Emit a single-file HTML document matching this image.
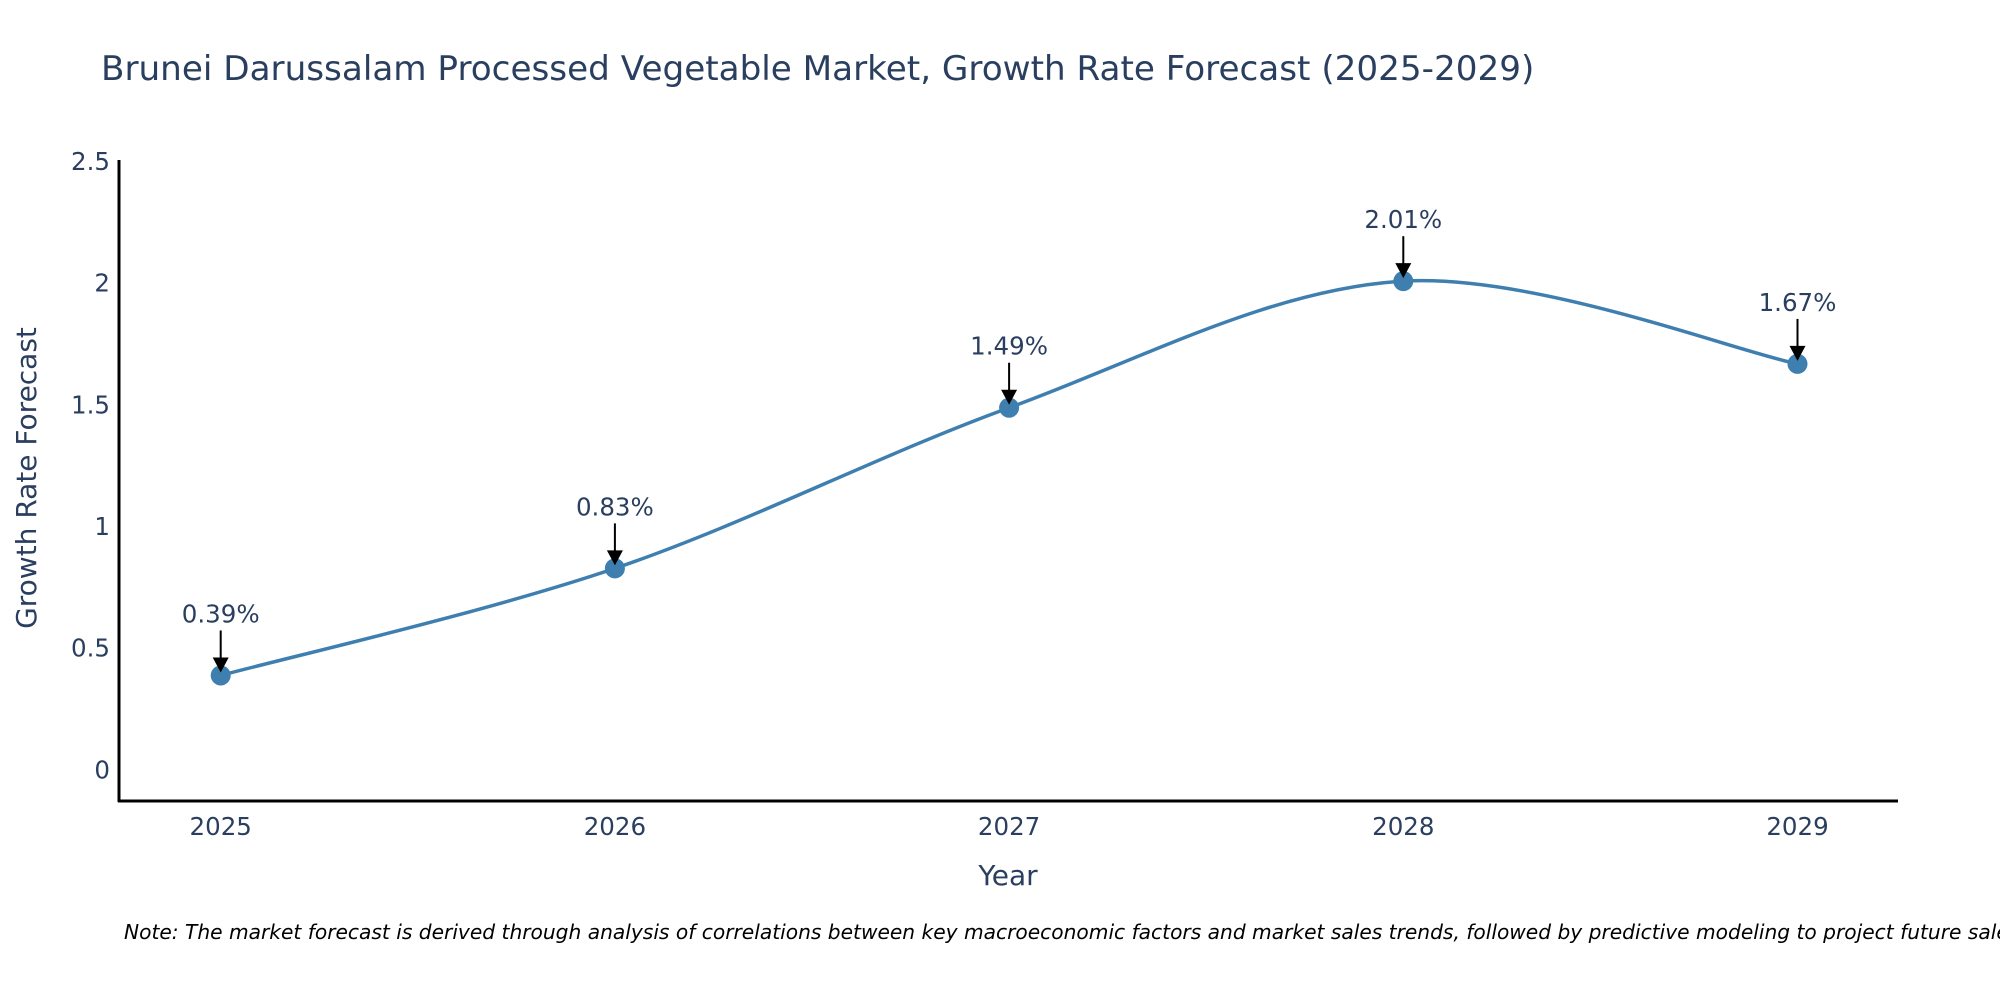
<!DOCTYPE html>
<html><head><meta charset="utf-8"><style>
body{margin:0;background:#fff;}
svg{display:block;font-family:"DejaVu Sans","Liberation Sans",sans-serif;}
</style></head><body>
<svg id="chart" width="2000" height="1000">
<text x="101" y="80" font-size="34.2" fill="#2a3f5f">Brunei Darussalam Processed Vegetable Market, Growth Rate Forecast (2025-2029)</text>
<g id="yticks"></g>
<g id="xticks"></g>
<line x1="119" y1="160" x2="119" y2="802" stroke="#000" stroke-width="3"/>
<line x1="118" y1="801" x2="1898" y2="801" stroke="#000" stroke-width="3"/>
<text transform="translate(36,478) rotate(-90)" text-anchor="middle" font-size="28" fill="#2a3f5f">Growth Rate Forecast</text>
<text x="1008" y="885" text-anchor="middle" font-size="28" fill="#2a3f5f">Year</text>
<path id="line" fill="none" stroke="#3f7fb0" stroke-width="3.5"/>
<g id="marks"></g>
<text x="124" y="939" font-size="20.2" font-style="italic" fill="#000">Note: The market forecast is derived through analysis of correlations between key macroeconomic factors and market sales trends, followed by predictive modeling to project future sales.</text>
</svg>
<script>
const years = [2025, 2026, 2027, 2028, 2029];
const values = [0.39, 0.83, 1.49, 2.01, 1.67];
const labels = ["0.39%", "0.83%", "1.49%", "2.01%", "1.67%"];
const yTicks = [0, 0.5, 1, 1.5, 2, 2.5];
const yTickLabels = ["0", "0.5", "1", "1.5", "2", "2.5"];

const NS = "http://www.w3.org/2000/svg";
function xs(v){ return 220.7 + (v - 2025) * 394.2; }
function ys(v){ return 770.4 - v * 243.4; }
function mk(tag, attrs, parent){ const e = document.createElementNS(NS, tag); for (const k in attrs) e.setAttribute(k, attrs[k]); parent.appendChild(e); return e; }

const yt = document.getElementById('yticks');
yTicks.forEach((t, i) => {
  const e = mk('text', {x: 110, y: ys(t) + 8, 'text-anchor': 'end', 'font-size': 24.5, fill: '#2a3f5f'}, yt);
  e.textContent = yTickLabels[i];
  
  
});
const xt = document.getElementById('xticks');
years.forEach(y => {
  const e = mk('text', {x: xs(y), y: 835, 'text-anchor': 'middle', 'font-size': 24.5, fill: '#2a3f5f'}, xt);
  e.textContent = y;
  
  
});

const pts = years.map((y, i) => [xs(y), ys(values[i])]);
let d = 'M' + pts[0][0] + ',' + pts[0][1];
const tension = 1 / 6;
for (let i = 0; i < pts.length - 1; i++) {
  const p0 = pts[Math.max(i - 1, 0)], p1 = pts[i], p2 = pts[i + 1], p3 = pts[Math.min(i + 2, pts.length - 1)];
  const c1 = [p1[0] + (p2[0] - p0[0]) * tension, p1[1] + (p2[1] - p0[1]) * tension];
  const c2 = [p2[0] - (p3[0] - p1[0]) * tension, p2[1] - (p3[1] - p1[1]) * tension];
  d += ' C' + c1 + ' ' + c2 + ' ' + p2;
}
document.getElementById('line').setAttribute('d', d);

const g = document.getElementById('marks');
pts.forEach((p, i) => {
  const c = mk('circle', {cx: p[0], cy: p[1], r: 10, fill: '#3f7fb0'}, g);
  
  
  const l = mk('line', {x1: p[0], y1: p[1] - 45, x2: p[0], y2: p[1] - 16, stroke: '#000', 'stroke-width': 2}, g);
  
  
  const a = mk('polygon', {points: (p[0]-8)+','+(p[1]-18)+' '+(p[0]+8)+','+(p[1]-18)+' '+p[0]+','+(p[1]-3), fill: '#000'}, g);
  
  
  const t = mk('text', {x: p[0], y: p[1] - 53, 'text-anchor': 'middle', 'font-size': 24.5, fill: '#2a3f5f'}, g);
  t.textContent = labels[i];
  
  
});
</script>
</body></html>
